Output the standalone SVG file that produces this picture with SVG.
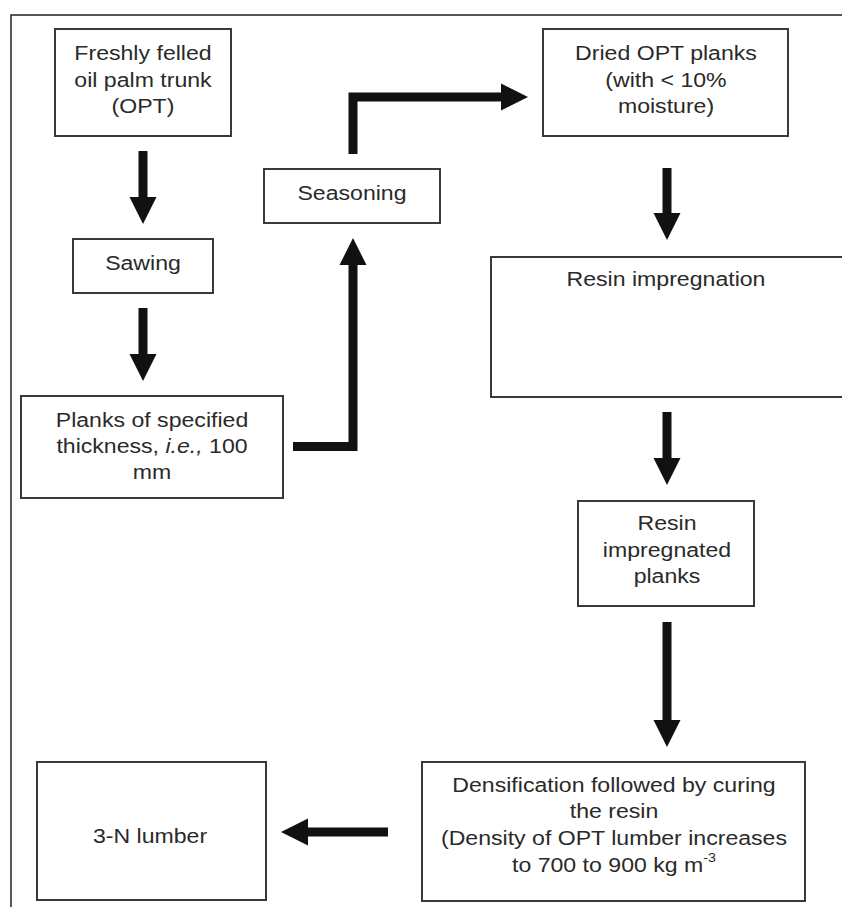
<svg xmlns="http://www.w3.org/2000/svg" width="842" height="907" viewBox="0 0 842 907">
  <style>
    .box { fill: #ffffff; stroke: #3a3a3a; stroke-width: 2; }
    .lbl { font-family: "Liberation Sans", Arial, sans-serif; font-size: 21px; fill: #2a2a2a; text-anchor: middle; }
    .conn { fill: none; stroke: #111111; stroke-width: 9; stroke-linejoin: miter; }
    .frame { fill: none; stroke: #222222; stroke-width: 1.5; }
  </style>
  <defs>
    <marker id="head" markerUnits="userSpaceOnUse" markerWidth="28" markerHeight="28" viewBox="0 0 28 28" refX="1" refY="14" orient="auto">
      <path d="M0,0.5 L27,14 L0,27.5 Z" fill="#111111"/>
    </marker>
  </defs>
  <rect width="842" height="907" fill="#ffffff"/>
  <path class="frame" d="M11,907 V15 H842"/>

  <g id="connectors">
    <path class="conn" d="M143,151 V198" marker-end="url(#head)"/>
    <path class="conn" d="M143,308 V355" marker-end="url(#head)"/>
    <path class="conn" d="M293,446.5 H353 V264" marker-end="url(#head)"/>
    <path class="conn" d="M353,154 V97 H502" marker-end="url(#head)"/>
    <path class="conn" d="M667,168 V214" marker-end="url(#head)"/>
    <path class="conn" d="M667,412 V459" marker-end="url(#head)"/>
    <path class="conn" d="M667,622 V721" marker-end="url(#head)"/>
    <path class="conn" d="M388,832 H307" marker-end="url(#head)"/>
  </g>

  <g id="node-fresh">
    <rect class="box" x="55" y="29" width="176" height="107"/>
    <g transform="translate(143,0) scale(1.1,1)">
      <text class="lbl" x="0" y="60">Freshly felled</text>
      <text class="lbl" x="0" y="87">oil palm trunk</text>
      <text class="lbl" x="0" y="113">(OPT)</text>
    </g>
  </g>

  <g id="node-sawing">
    <rect class="box" x="73" y="239" width="140" height="54"/>
    <g transform="translate(143,0) scale(1.1,1)">
      <text class="lbl" x="0" y="270">Sawing</text>
    </g>
  </g>

  <g id="node-planks">
    <rect class="box" x="21" y="396" width="262" height="102"/>
    <g transform="translate(152,0) scale(1.1,1)">
      <text class="lbl" x="0" y="427">Planks of specified</text>
      <text class="lbl" x="0" y="453">thickness, <tspan font-style="italic">i.e.,</tspan> 100</text>
      <text class="lbl" x="0" y="479">mm</text>
    </g>
  </g>

  <g id="node-seasoning">
    <rect class="box" x="264" y="169" width="176" height="54"/>
    <g transform="translate(352,0) scale(1.1,1)">
      <text class="lbl" x="0" y="200">Seasoning</text>
    </g>
  </g>

  <g id="node-dried">
    <rect class="box" x="543" y="29" width="245" height="107"/>
    <g transform="translate(666,0) scale(1.1,1)">
      <text class="lbl" x="0" y="60">Dried OPT planks</text>
      <text class="lbl" x="0" y="87">(with &lt; 10%</text>
      <text class="lbl" x="0" y="113">moisture)</text>
    </g>
  </g>

  <g id="node-resin-impregnation">
    <rect class="box" x="491" y="257" width="362" height="140"/>
    <g transform="translate(666,0) scale(1.1,1)">
      <text class="lbl" x="0" y="286">Resin impregnation</text>
    </g>
  </g>

  <g id="node-resin-planks">
    <rect class="box" x="578" y="501" width="176" height="105"/>
    <g transform="translate(667,0) scale(1.1,1)">
      <text class="lbl" x="0" y="530">Resin</text>
      <text class="lbl" x="0" y="557">impregnated</text>
      <text class="lbl" x="0" y="583">planks</text>
    </g>
  </g>

  <g id="node-densification">
    <rect class="box" x="422" y="762" width="383" height="139"/>
    <g transform="translate(614,0) scale(1.1,1)">
      <text class="lbl" x="0" y="792">Densification followed by curing</text>
      <text class="lbl" x="0" y="818">the resin</text>
      <text class="lbl" x="0" y="845">(Density of OPT lumber increases</text>
      <text class="lbl" x="0" y="872">to 700 to 900 kg m<tspan dy="-10" font-size="13">-3</tspan></text>
    </g>
  </g>

  <g id="node-lumber">
    <rect class="box" x="37" y="762" width="229" height="138"/>
    <g transform="translate(150,0) scale(1.1,1)">
      <text class="lbl" x="0" y="843">3-N lumber</text>
    </g>
  </g>
</svg>
